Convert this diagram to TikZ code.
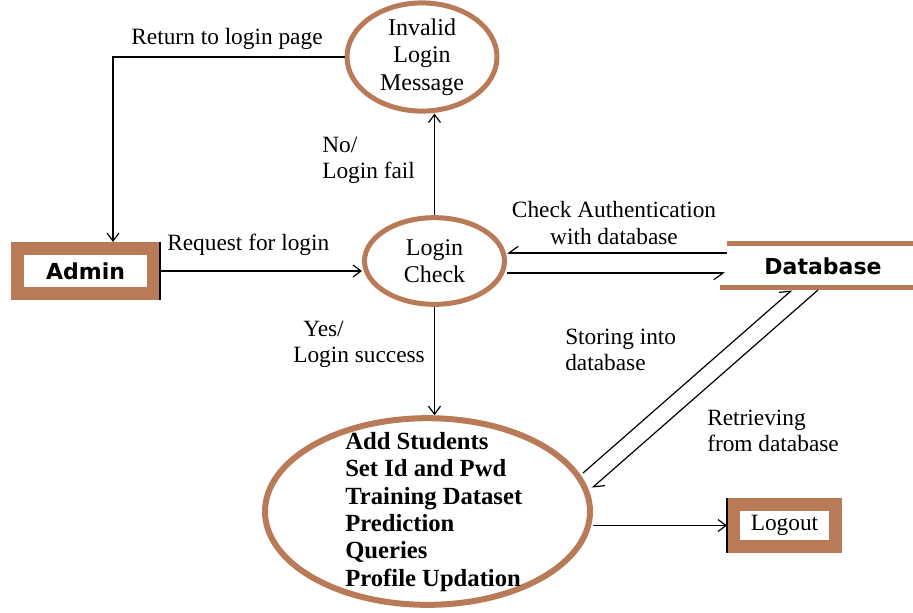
\documentclass[tikz,border=0pt]{standalone}
\usepackage{fontspec}
\setmainfont{Liberation Serif}
\newfontfamily\sansb{DejaVu Sans}
\usetikzlibrary{shapes.geometric,arrows.meta}
\definecolor{brn}{RGB}{185,122,87}
\begin{document}
\begin{tikzpicture}[x=0.75pt,y=-0.75pt,
  lbl/.style={font=\fontsize{17.5}{19.5}\selectfont, inner sep=0pt, align=left},
  clbl/.style={font=\fontsize{17.5}{20}\selectfont, inner sep=0pt, align=center},
  proc/.style={ellipse, draw=brn, line width=3.75pt, fill=white, inner sep=0pt, align=center, font=\fontsize{18}{20.5}\selectfont},
  ent/.style={rectangle, draw=brn, fill=white, inner sep=0pt},
  tip/.style={line width=0.9pt, -{Straight Barb[length=6pt,width=9pt]}},
  tipl/.style={line width=0.9pt, -{Straight Barb[harpoon,length=7pt,width=10pt]}},
  tipr/.style={line width=0.9pt, -{Straight Barb[harpoon,swap,length=7pt,width=10pt]}},
  edgeline/.style={line width=1.2pt}]
\useasboundingbox (0,0) rectangle (913,612);

% processes
\node[proc, minimum width=112.5pt, minimum height=67.5pt] (inv) at (422,57) {Invalid\\Login\\Message};
\node[proc, minimum width=105pt, minimum height=65pt] (lc) at (434.5,261) {Login\\Check};
\node[proc, minimum width=243.75pt, minimum height=140pt, line width=4.5pt] (big) at (427.5,511.5) {};
\node[inner sep=0pt, align=left, anchor=north west, font=\fontsize{18.5}{20.5}\selectfont\bfseries] (list) at (345,432)
  {Add Students\\Set Id and Pwd\\Training Dataset\\Prediction\\Queries\\Profile Updation};

% entities
\node[ent, line width=9.75pt, minimum width=102pt, minimum height=33.75pt, font=\sansb\bfseries\fontsize{16.5}{18}\selectfont] (admin) at (85.5,271) {Admin};
\draw[edgeline] (admin.north east) -- (admin.south east);
\node[ent, line width=9.75pt, minimum width=76.5pt, minimum height=31.5pt, font=\fontsize{17.5}{19}\selectfont] (lo) at (784.5,525.5) {Logout};
\draw[edgeline] (lo.north west) -- (lo.south west);

% data store
\node[inner sep=0pt, font=\sansb\bfseries\fontsize{16.5}{18}\selectfont] (db) at (823,266) {Database};
\draw[brn, line width=3.75pt] (727,243) -- (913,243);
\draw[brn, line width=3.75pt] (720,287) -- (913,287);

% connectors
\coordinate (rt) at (113,57);
\draw[tip] (inv.west) -- (rt) -- (rt |- admin.north);
\draw[tip] (lc.north) -- (lc.north |- inv.south);
\draw[tip] (admin.east) -- (admin.east -| lc.west);
\draw[tip] (lc.south) -- (lc.south |- big.north);
\draw[tip] (big.east |- lo.west) -- (lo.west);

\coordinate (d1) at (727,253);
\coordinate (d2) at (725,273);
\draw[tipr] (d1) -- (d1 -| lc.east);
\draw[tipr] (d2 -| lc.east) -- (d2);

\coordinate (s1) at (583,473);
\coordinate (s2) at (792,290);
\coordinate (r1) at (818,290);
\coordinate (r2) at (592,488);
\draw[tipl] (s1) -- (s2);
\draw[tipl] (r1) -- (r2);

% labels
\node[clbl] (l1) at (227,39) {Return to login page};
\node[lbl, anchor=west] (l2) at (322,160) {No/\\Login fail};
\node[lbl, anchor=west] (l3) at (167,245) {Request for login};
\node[clbl] (l4) at (614,223) {Check Authentication\\with database};
\node[lbl, anchor=west] (l5) at (293,344) {\hspace*{7.5pt}Yes/\\Login success};
\node[lbl, anchor=west] (l6) at (565,350) {Storing into\\database};
\node[lbl, anchor=west] (l7) at (707,431) {Retrieving\\from database};
\end{tikzpicture}
\end{document}
